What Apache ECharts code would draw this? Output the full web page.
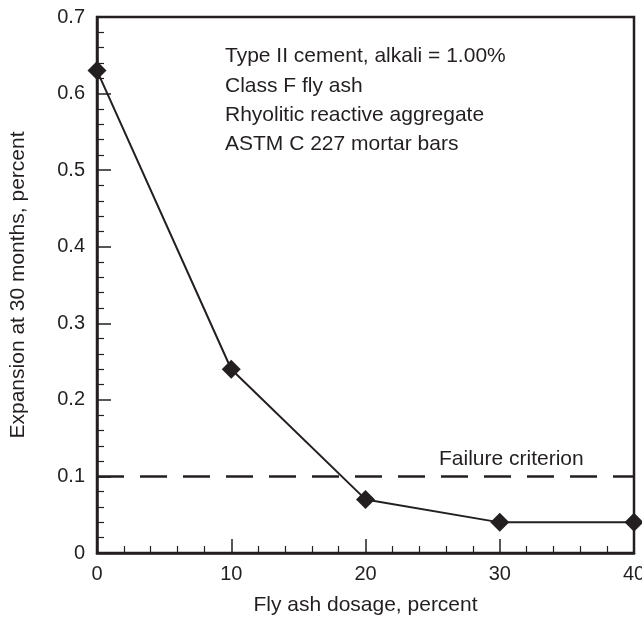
<!DOCTYPE html>
<html>
<head>
<meta charset="utf-8">
<script src="https://cdn.jsdelivr.net/npm/echarts@6/dist/echarts.min.js"></script>
<style>
  html, body { margin: 0; padding: 0; background: #fff; }
  #chart { width: 642px; height: 618px; }
</style>
</head>
<body>
<div id="chart"></div>
<script>
// fly ash dosage (%) vs expansion at 30 months (%)
const dosage = [0, 10, 20, 30, 40];
const expansion = [0.63, 0.24, 0.07, 0.04, 0.04];
const failureLevel = 0.1;
const noteLines = [
    'Type II cement, alkali = 1.00%',
    'Class F fly ash',
    'Rhyolitic reactive aggregate',
    'ASTM C 227 mortar bars'
];

const ink = '#231f20';
const font = 'Liberation Sans, Arial, Helvetica, sans-serif';

const chart = echarts.init(document.getElementById('chart'));

chart.setOption({
    animation: false,
    backgroundColor: '#fff',
    grid: {
        left: 97, right: 8, top: 17, bottom: 65,
        outerBoundsMode: 'none',
        containLabel: false,
        show: true, borderColor: ink, borderWidth: 2.5
    },
    xAxis: {
        type: 'value', min: 0, max: 40, interval: 10,
        name: 'Fly ash dosage, percent',
        nameLocation: 'middle', nameGap: 42,
        nameTextStyle: { color: ink, fontSize: 21, fontFamily: font },
        axisLine: { lineStyle: { color: ink, width: 2.5 } },
        axisTick: { inside: true, length: 14, lineStyle: { color: ink, width: 1.5 } },
        minorTick: { show: true, splitNumber: 5, length: 7, lineStyle: { color: ink, width: 1.2 } },
        axisLabel: { color: ink, fontSize: 20, fontFamily: font, margin: 11 },
        splitLine: { show: false }
    },
    yAxis: {
        type: 'value', min: 0, max: 0.7, interval: 0.1,
        name: 'Expansion at 30 months, percent',
        nameLocation: 'middle', nameGap: 68,
        nameTextStyle: { color: ink, fontSize: 21, fontFamily: font },
        axisLine: { show: true, lineStyle: { color: ink, width: 2.5 } },
        axisTick: { show: true, inside: true, length: 14, lineStyle: { color: ink, width: 1.5 } },
        minorTick: { show: true, splitNumber: 5, length: 7, lineStyle: { color: ink, width: 1.2 } },
        axisLabel: { color: ink, fontSize: 20, fontFamily: font, margin: 12,
            formatter: v => String(Math.round(v * 10) / 10) },
        splitLine: { show: false }
    },
    series: [
        {
            type: 'line',
            data: dosage.map((d, i) => [d, expansion[i]]),
            symbol: 'diamond',
            symbolSize: 19,
            itemStyle: { color: ink },
            lineStyle: { color: ink, width: 2 },
            clip: false,
            z: 5
        },
        {
            type: 'line',
            data: [[dosage[0], failureLevel], [dosage[dosage.length - 1], failureLevel]],
            symbol: 'none',
            lineStyle: { color: ink, width: 2.5, type: [27, 16] },
            z: 3
        }
    ],
    graphic: [
        ...noteLines.map((t, i) => ({
            type: 'text', left: 225, top: 46 + i * 29.3,
            style: { text: t, fill: ink, fontSize: 21, fontFamily: font }
        })),
        {
            type: 'text', left: 439, top: 449,
            style: { text: 'Failure criterion', fill: ink, fontSize: 21, fontFamily: font }
        }
    ]
});
</script>
</body>
</html>
